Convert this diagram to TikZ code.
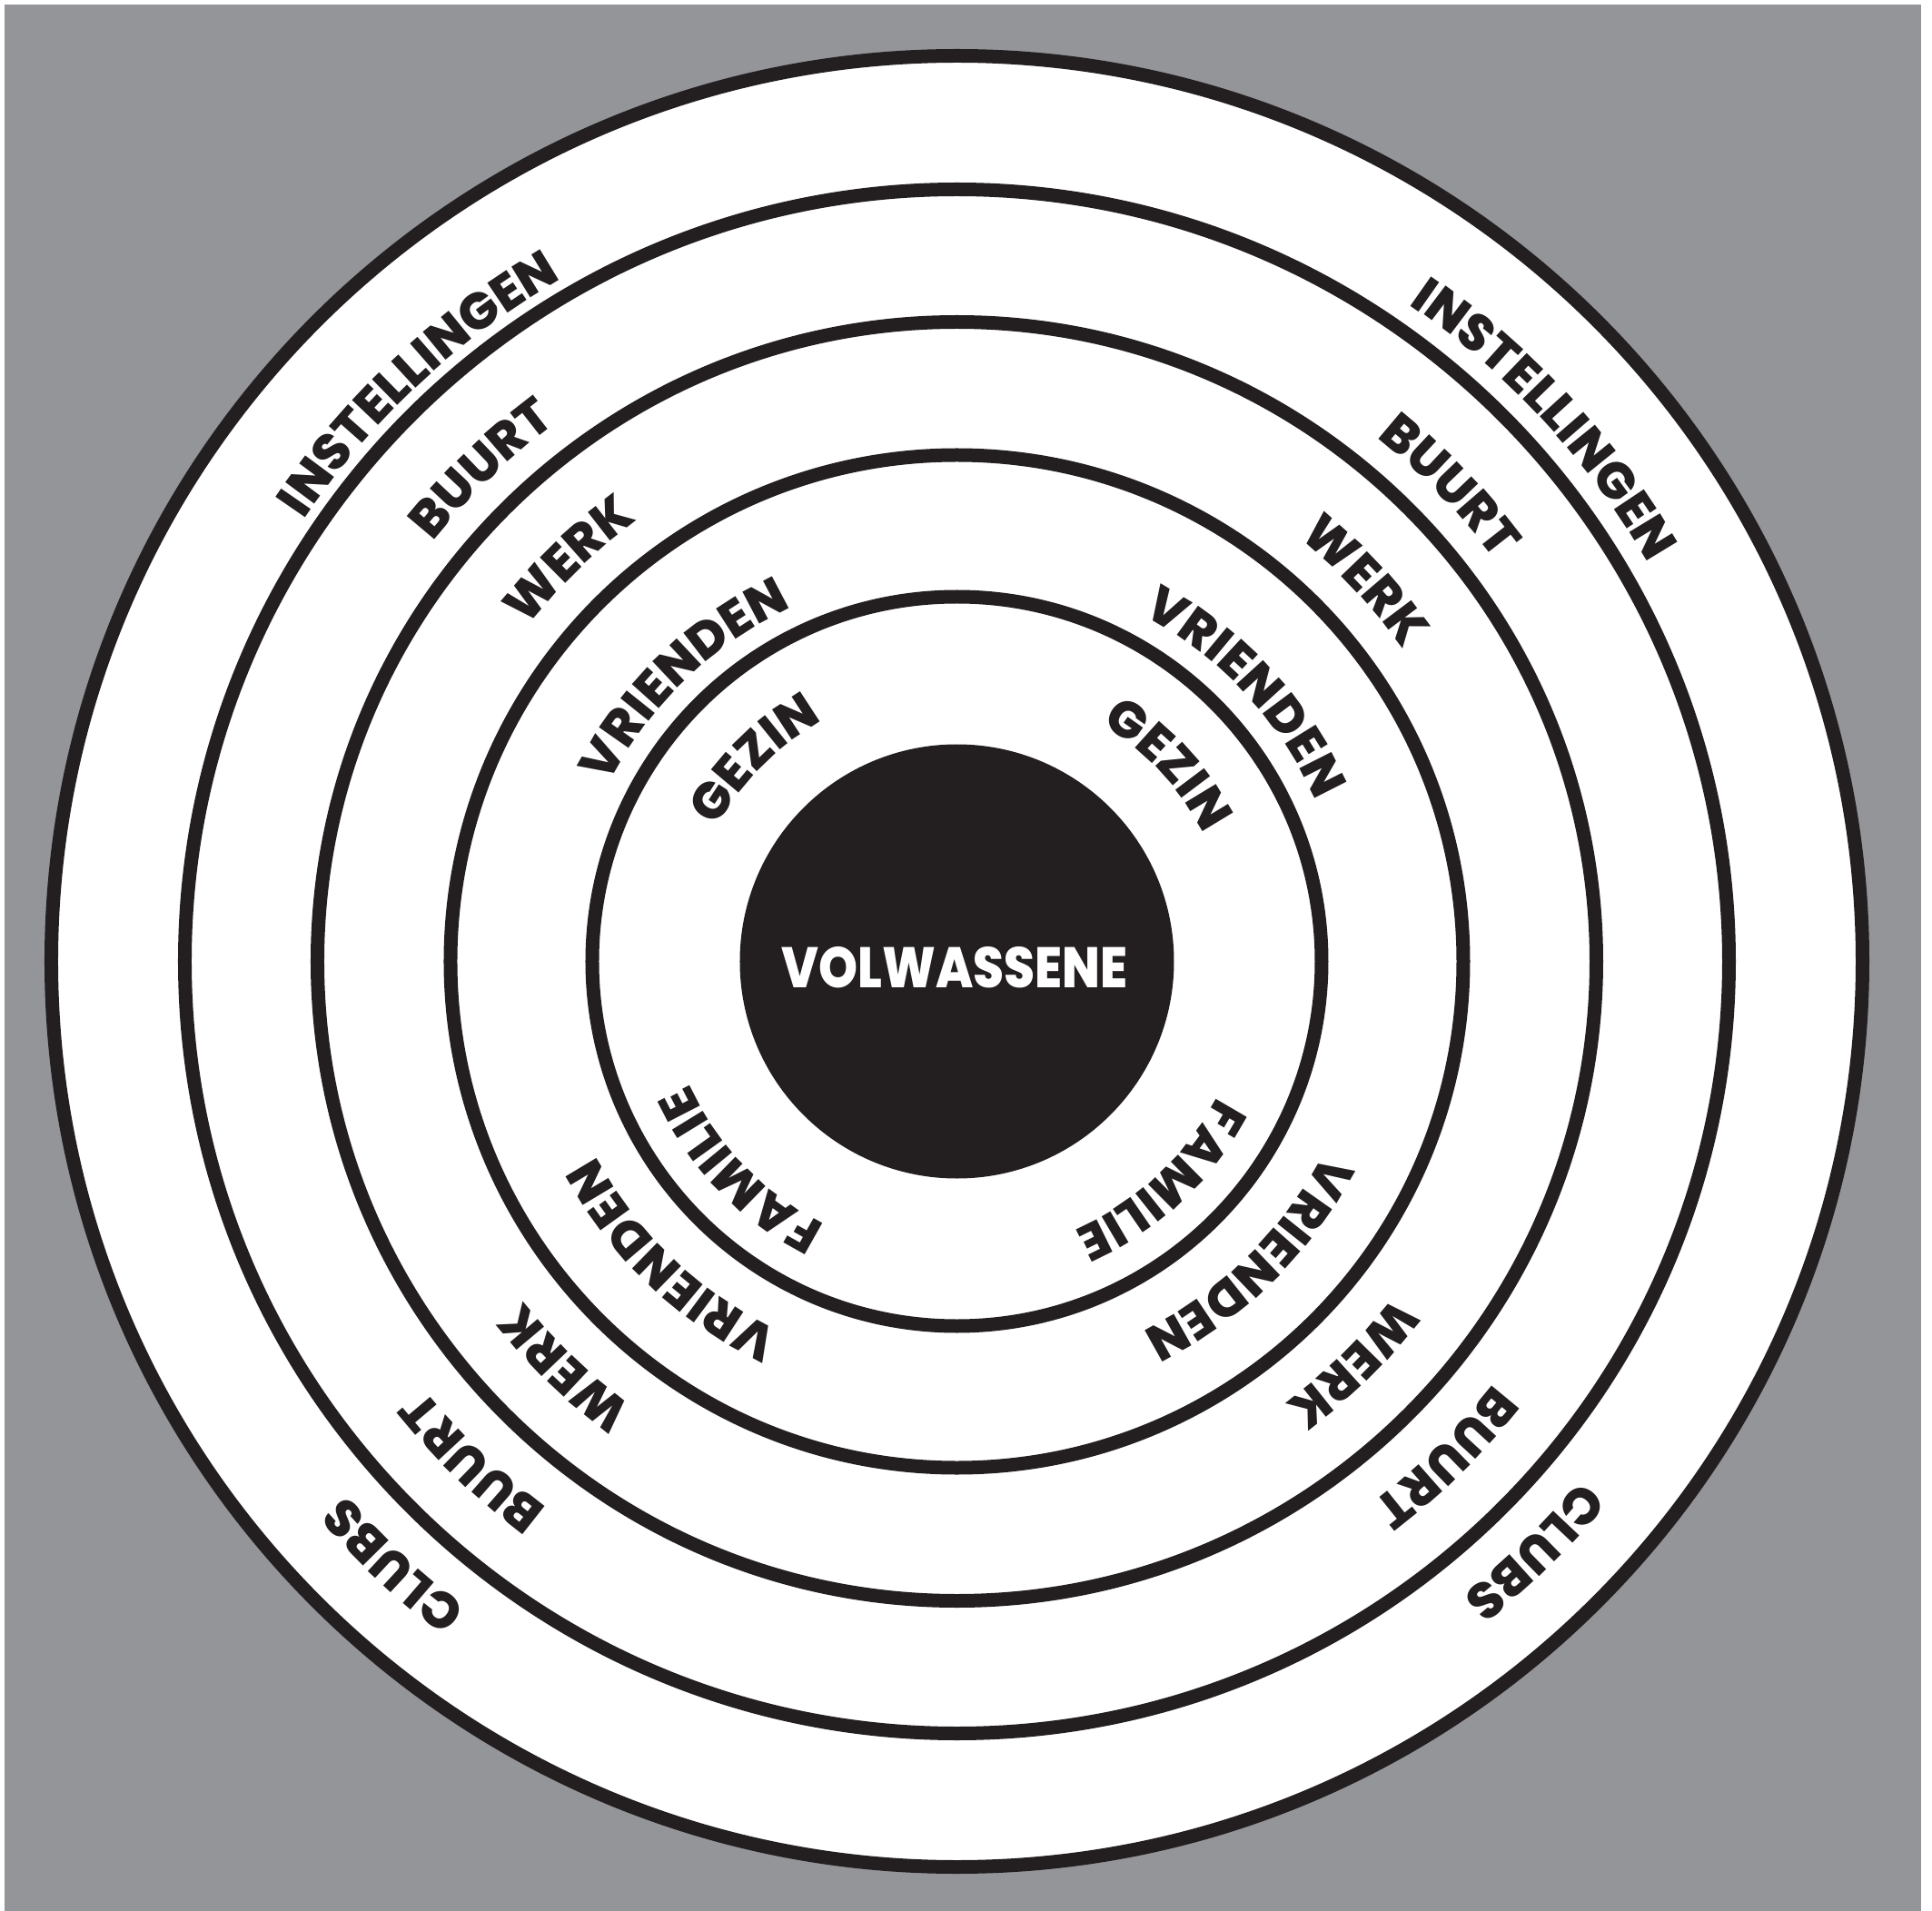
\documentclass[tikz,border=0pt]{standalone}
\usepackage{fontspec}
\usepackage{tikz}
\usetikzlibrary{decorations.text}
\definecolor{bggray}{RGB}{148, 149, 153}
\definecolor{ink}{RGB}{35, 31, 32}
\newfontfamily\lblfont{Poppins}[BoldFont = Poppins ExtraBold, LetterSpace = 4]
\newfontfamily\midfont{Poppins}[BoldFont = Poppins ExtraBold]
\newcommand{\lblstyle}{\lblfont\bfseries\fontsize{16}{18}\selectfont\color{ink}}
\newcommand{\ringlabel}[3]{%
  \path[decorate, decoration = {text along path, text align = center,
    text = {|\lblstyle|#3}}] ({#1+60}:#2) arc[start angle = {#1+60}, end angle = {#1-60}, radius = #2];}

\begin{document}
\begin{tikzpicture}[line width = 0.15cm]
\useasboundingbox[fill = white] (-10.535,-10.455) rectangle (10.735,10.585);
\fill[bggray] (-10.485,-10.455) rectangle (10.615,10.535);
\draw[ink, fill = white] (0,0) circle (9.97);
\foreach \r in {8.5, 7.04, 5.575, 4.015} {
  \draw[ink] (0,0) circle (\r);
}
\fill[ink] (0,0) circle (2.39);
\node[white, font = \midfont\bfseries\fontsize{17.9}{20}\selectfont, xscale = 0.87] (core) at (-0.025,-0.065) {VOLWASSENE};
% upper half
\ringlabel{133}{8.68}{INSTELLINGEN}
\ringlabel{134}{7.39}{BUURT}
\ringlabel{134}{5.99}{WERK}
\ringlabel{134}{4.30}{VRIENDEN}
\ringlabel{135}{3.03}{GEZIN}
\ringlabel{42.7}{8.78}{INSTELLINGEN}
\ringlabel{44}{7.39}{BUURT}
\ringlabel{43}{5.99}{WERK}
\ringlabel{43}{4.33}{VRIENDEN}
\ringlabel{43}{3.06}{GEZIN}
% lower half
\ringlabel{227}{8.93}{CLUBS}
\ringlabel{226}{7.52}{BUURT}
\ringlabel{226}{6.06}{WERK}
\ringlabel{226.4}{4.52}{VRIENDEN}
\ringlabel{224}{3.24}{FAMILIE}
\ringlabel{314.4}{8.93}{CLUBS}
\ringlabel{314.6}{7.52}{BUURT}
\ringlabel{314.6}{6.06}{WERK}
\ringlabel{314.5}{4.56}{VRIENDEN}
\ringlabel{313}{3.23}{FAMILIE}
\end{tikzpicture}
\end{document}
